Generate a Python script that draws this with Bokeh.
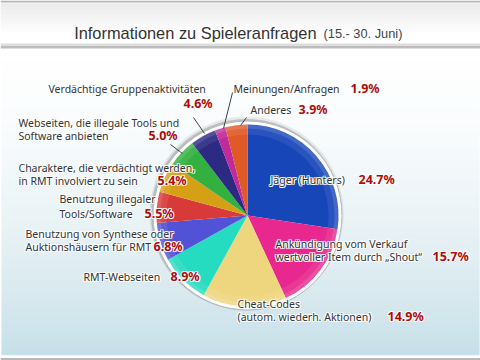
import numpy as np
from bokeh.plotting import figure
from bokeh.models import Range1d
from bokeh.core.properties import value
from bokeh.embed import file_html
from bokeh.resources import INLINE

# ---------------- data ----------------
title = "Informationen zu Spieleranfragen"
subtitle = "(15.- 30. Juni)"
categories = [
    "Jäger (Hunters)",
    "Ankündigung vom Verkauf\nwertvoller Item durch „Shout“",
    "Cheat-Codes\n(autom. wiederh. Aktionen)",
    "RMT-Webseiten",
    "Benutzung von Synthese oder\nAuktionshäusern für RMT",
    "Benutzung illegaler\nTools/Software",
    "Charaktere, die verdächtigt werden,\nin RMT involviert zu sein",
    "Webseiten, die illegale Tools und\nSoftware anbieten",
    "Verdächtige Gruppenaktivitäten",
    "Meinungen/Anfragen",
    "Anderes",
]
# slice sizes as drawn in the picture (the Jäger slice is drawn as 27.4 %)
slice_share = [27.4, 15.7, 14.9, 8.9, 6.8, 5.5, 5.4, 5.0, 4.6, 1.9, 3.9]
pct_labels = ["24.7%", "15.7%", "14.9%", "8.9%", "6.8%", "5.5%", "5.4%",
              "5.0%", "4.6%", "1.9%", "3.9%"]

# ---------------- styles / layout ----------------
colors = ["#1746b8", "#e8288e", "#eed67e", "#26dcc0", "#5252d6", "#d83a3a",
          "#d6a016", "#32b040", "#2c2a82", "#c02a9a", "#e05a28"]

W, H = 480, 360
def Y(y):
    return H - y

# label layout in page pixels: (text left x, first line centre y, line step, pct x, pct y)
lab_layout = [
    (270, 179, 13, 358, 179),
    (275, 243, 13, 432, 256),
    (237, 303, 13, 387, 316),
    (83, 276, 13, 170, 276),
    (25, 233, 13, 153, 246),
    (59, 198, 15, 144, 213),
    (18, 167, 13, 157, 180),
    (18, 122, 13, 148, 135),
    (48, 88, 13, 183, 103),
    (233, 88, 13, 350, 88),
    (250, 109, 13, 298, 109),
]
leaders = [((193, 117), (204, 133)), ((170, 144), (182, 153)),
           ((232, 92), (223, 128)), ((246, 117), (240, 125))]

cx, cy, R = 247, 215, 91

p = figure(width=W, height=H, output_backend="svg", toolbar_location=None,
           x_range=Range1d(0, W), y_range=Range1d(0, H),
           min_border=0, outline_line_color=None)
p.axis.visible = False
p.grid.visible = False
p.background_fill_color = "#ffffff"
p.border_fill_color = "#ffffff"

def lerp_colors(stops, ys):
    out = []
    for y in ys:
        y = min(max(y, stops[0][0]), stops[-1][0])
        for (y0, c0), (y1, c1) in zip(stops[:-1], stops[1:]):
            if y0 <= y <= y1:
                t = (y - y0) / (y1 - y0)
                a = np.array([int(c0[i:i+2], 16) for i in (1, 3, 5)])
                b = np.array([int(c1[i:i+2], 16) for i in (1, 3, 5)])
                c = (a + (b - a) * t).round().astype(int)
                out.append("#%02x%02x%02x" % tuple(c))
                break
    return out

# body gradient
body_stops = [(48, "#ffffff"), (120, "#f9fcfd"), (220, "#e3eff3"),
              (300, "#cae1e9"), (355, "#b3d5e1")]
ys = np.arange(48, 355, 1)
p.quad(left=1, right=W - 1, top=[Y(v) for v in ys], bottom=[Y(v + 1) for v in ys],
       fill_color=lerp_colors(body_stops, ys + 0.5), line_color=None)
p.quad(left=0, right=W, top=Y(355), bottom=Y(357.5), fill_color="#ffffff", line_color=None)
p.quad(left=0, right=W, top=Y(357.5), bottom=Y(360), fill_color="#b8b8b8", line_color=None)

# header
p.quad(left=0, right=W, top=Y(0), bottom=Y(2), fill_color="#b4b4b4", line_color=None)
head_stops = [(3, "#e4e4e4"), (34, "#ffffff")]
hy = np.arange(3, 43, 1)
p.quad(left=0, right=W, top=[Y(v) for v in hy], bottom=[Y(v + 1) for v in hy],
       fill_color=lerp_colors(head_stops, hy + 0.5), line_color=None)
p.quad(left=0, right=W, top=Y(43), bottom=Y(44.5), fill_color="#dedede", line_color=None)
p.quad(left=0, right=W, top=Y(45), bottom=Y(48), fill_color="#bdbdbd", line_color=None)

# title
p.text(x=[316], y=[Y(32.5)], text=[title], text_align="right", text_baseline="alphabetic",
       text_font=value("Liberation Sans"), text_font_size="16.4px", text_color="#333333")
p.text(x=[323], y=[Y(32.5)], text=[subtitle], text_align="left", text_baseline="alphabetic",
       text_font=value("Liberation Sans"), text_font_size="12.8px", text_color="#444444")

# pie shadow and rim
p.circle(x=[cx - 1], y=[Y(cy - 2)], radius=R + 6, fill_color="#8a9aa0", fill_alpha=0.18, line_color=None)
p.circle(x=[cx - 1], y=[Y(cy - 1)], radius=R + 4.5, fill_color="#707070", fill_alpha=0.35, line_color=None)
p.circle(x=[cx], y=[Y(cy)], radius=R + 3.5, fill_color="#ffffff", line_color="#b8b8b8", line_width=1)

share = np.array(slice_share, dtype=float)
cum = np.concatenate([[0], np.cumsum(share)]) / share.sum()
start = np.pi / 2 - 2 * np.pi * cum[:-1]
end = np.pi / 2 - 2 * np.pi * cum[1:]
p.wedge(x=cx, y=Y(cy), radius=R, start_angle=start, end_angle=end, direction="clock",
        fill_color=colors, line_color=None)
# gloss near the rim
p.annulus(x=[cx], y=[Y(cy)], inner_radius=R - 10, outer_radius=R, fill_color="#ffffff",
          fill_alpha=0.08, line_color=None)
p.annulus(x=[cx], y=[Y(cy)], inner_radius=R - 4, outer_radius=R, fill_color="#ffffff",
          fill_alpha=0.12, line_color=None)

# leader lines
p.segment(x0=[a[0] for a, b in leaders], y0=[Y(a[1]) for a, b in leaders],
          x1=[b[0] for a, b in leaders], y1=[Y(b[1]) for a, b in leaders],
          line_color="#444444", line_width=1)

# labels
lx, ly, lt = [], [], []
for name, (x0, y0, step, px, py) in zip(categories, lab_layout):
    for k, line in enumerate(name.split("\n")):
        lx.append(x0); ly.append(Y(y0 + k * step)); lt.append(line)
px_ = [l[3] for l in lab_layout]
py_ = [Y(l[4]) for l in lab_layout]

# white glow behind all labels
for dx, dy in [(-1, 0), (1, 0), (0, -1), (0, 1), (-1, -1), (1, 1), (-1, 1), (1, -1)]:
    p.text(x=lx, y=ly, text=lt, x_offset=dx, y_offset=dy, text_align="left",
           text_baseline="middle", text_font=value("Noto Sans"), text_font_size="10.5px",
           text_color="#ffffff", text_alpha=0.75)
    p.text(x=px_, y=py_, text=pct_labels, x_offset=dx, y_offset=dy, text_align="left",
           text_baseline="middle", text_font=value("Noto Sans"), text_font_size="12.5px",
           text_font_style="bold", text_color="#ffffff", text_alpha=0.75)

p.text(x=lx, y=ly, text=lt, text_align="left", text_baseline="middle",
       text_font=value("Noto Sans"), text_font_size="10.5px", text_color="#333333")
p.text(x=px_, y=py_, text=pct_labels,
       text_align="left", text_baseline="middle", text_font=value("Noto Sans"),
       text_font_size="12.5px", text_font_style="bold", text_color="#b00a0a")

open("out.html", "w").write(file_html(p, INLINE))
